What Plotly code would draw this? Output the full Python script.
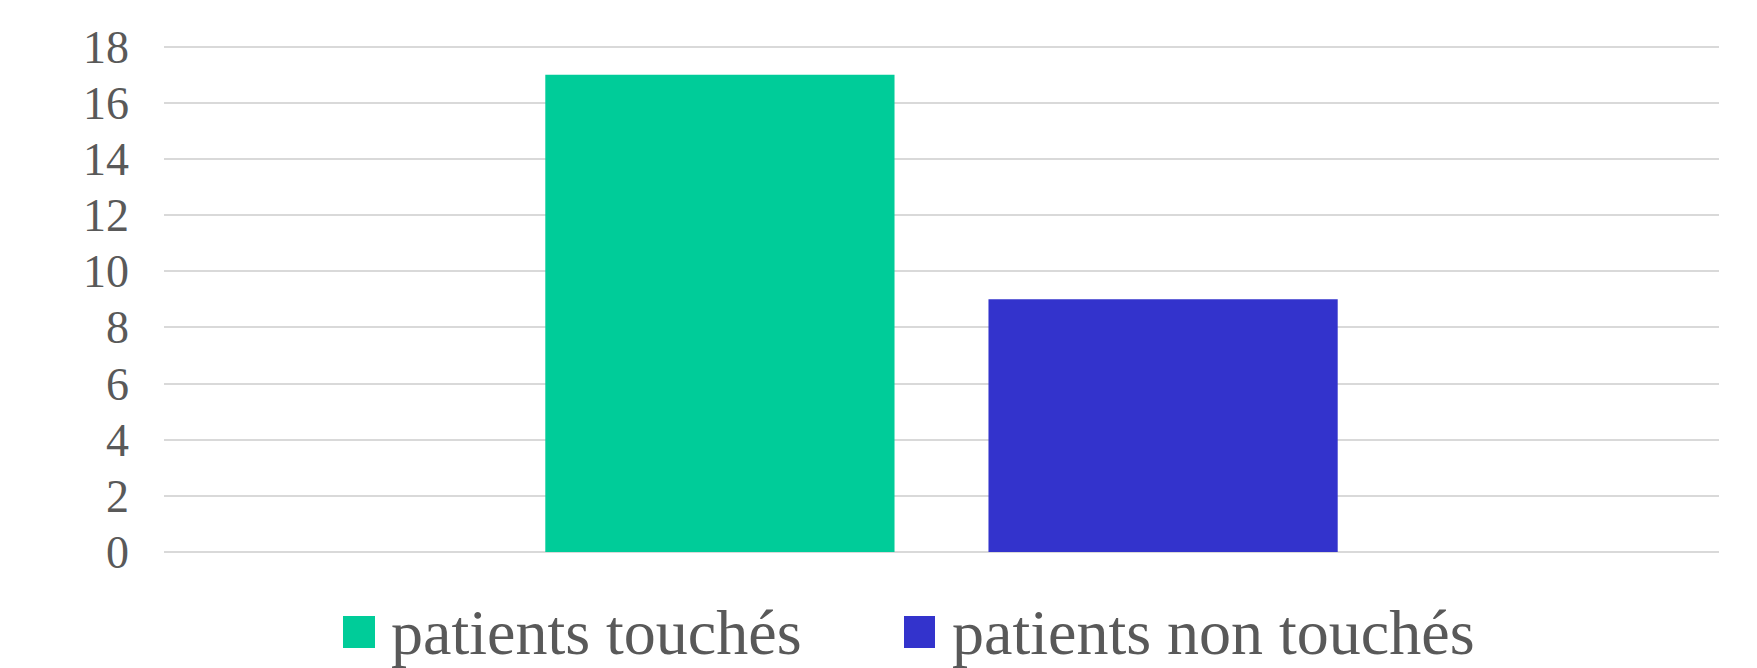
import plotly.graph_objects as go

# Data
series_names = ["patients touchés", "patients non touchés"]
series_values = [17, 9]
series_colors = ["#00CC99", "#3333CC"]
category = [""]

y_ticks = [0, 2, 4, 6, 8, 10, 12, 14, 16, 18]

W, H = 1757, 668
L, R, T, B = 164, 38, 41, 116
plot_w = W - L - R
plot_h = H - T - B

text_color = "#595959"
serif = "Liberation Serif, Times New Roman, serif"

fig = go.Figure()
for name, val, col in zip(series_names, series_values, series_colors):
    fig.add_trace(go.Bar(x=category, y=[val], name=name, marker_color=col,
                         marker_line_width=0, showlegend=False))


def px_x(px):
    return (px - L) / plot_w


def px_y(py):
    return (H - B - py) / plot_h


# Legend built from swatches + labels below the plot
legend_items = [
    {"sq": (343, 375), "text_x": 389},
    {"sq": (904, 935), "text_x": 950},
]
shapes = []
annotations = []
for item, name, col in zip(legend_items, series_names, series_colors):
    x0, x1 = item["sq"]
    shapes.append(dict(type="rect", xref="paper", yref="paper",
                       x0=px_x(x0), x1=px_x(x1), y0=px_y(648), y1=px_y(616),
                       fillcolor=col, line_width=0))
    annotations.append(dict(text=name, xref="paper", yref="paper",
                            x=px_x(item["text_x"]), y=px_y(632),
                            xanchor="left", yanchor="middle", showarrow=False,
                            font=dict(family=serif, size=64, color=text_color)))

fig.update_layout(
    width=W, height=H,
    margin=dict(l=L, r=R, t=T, b=B, pad=0),
    plot_bgcolor="white", paper_bgcolor="white",
    barmode="group", bargap=0.43, bargroupgap=0.212,
    shapes=shapes, annotations=annotations,
    xaxis=dict(showticklabels=False, showgrid=False, zeroline=False,
               showline=False, ticks=""),
    yaxis=dict(range=[0, 18.2], tickvals=y_ticks, showgrid=True,
               gridcolor="#D9D9D9", gridwidth=2, zeroline=True,
               zerolinecolor="#D9D9D9", zerolinewidth=2, showline=False,
               ticks="", ticklabelstandoff=34,
               tickfont=dict(family=serif, size=46, color=text_color)),
)

fig.write_html("out.html")
